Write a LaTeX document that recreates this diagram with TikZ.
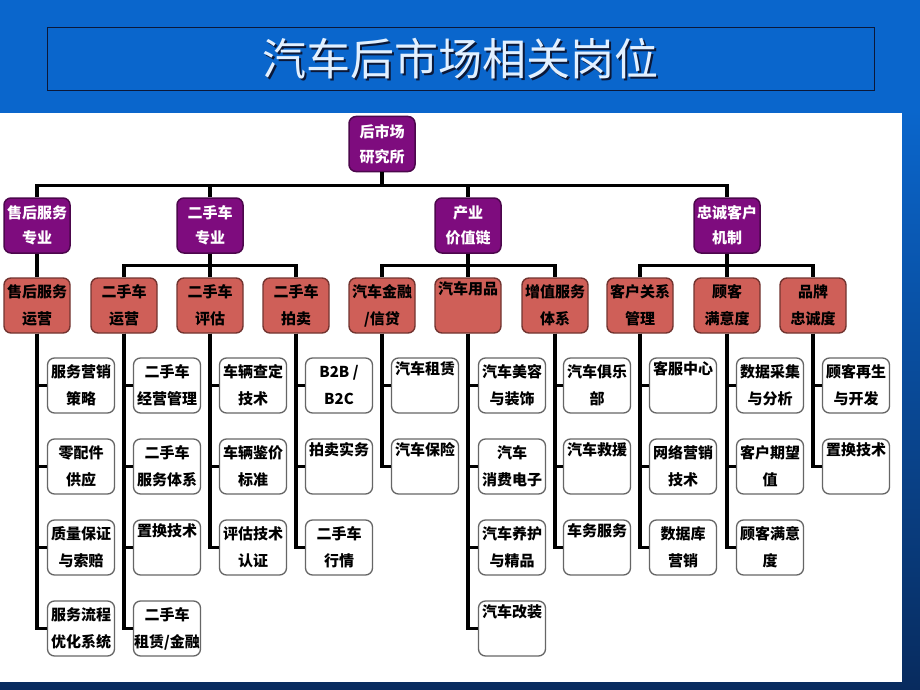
\documentclass[tikz,border=0pt]{standalone}
\usepackage{fontspec}
\setmainfont{Noto Sans CJK SC}
\newfontfamily\titlefont{Noto Sans CJK SC}

\definecolor{slideblue}{HTML}{0A66CC}
\definecolor{slidedark}{HTML}{082B5E}
\definecolor{framedark}{HTML}{0B1838}
\definecolor{boxpurple}{HTML}{7E0C7E}
\definecolor{boxred}{HTML}{CF5F58}
\definecolor{titletext}{HTML}{E2F0FF}

\newcommand\shadowtext[1]{\rlap{\kern2pt\raisebox{-2pt}{\color{framedark}#1}}#1}

\tikzset{
  purplebox/.style={draw=boxpurple!60!black, line width=1.5pt, fill=boxpurple, rounded corners=7pt,
    minimum width=66pt, minimum height=55pt, inner sep=0pt, text=white, align=center,
    font=\bfseries\fontsize{15}{25}\selectfont},
  redbox/.style={draw=boxred!55!black, line width=1.4pt, fill=boxred, rounded corners=7pt,
    minimum width=66pt, minimum height=55pt, inner sep=0pt, text=black, align=center,
    font=\bfseries\fontsize{15}{27}\selectfont},
  leafbox/.style={draw=black!60, line width=1.3pt, fill=white, rounded corners=7pt,
    minimum width=67pt, minimum height=55pt, inner sep=0pt, align=center,
    font=\bfseries\fontsize{15}{27}\selectfont},
  link/.style={line width=3.3pt, black},
}

\begin{document}
\begin{tikzpicture}[x=1pt,y=-1pt]
  \useasboundingbox (0,0) rectangle (920,690);
  \fill[slideblue] (0,0) rectangle (920,110);
  \fill[top color=slideblue, bottom color=slidedark] (0,110) rectangle (920,690);
  \fill[white] (0,113) rectangle (902,682);

  % title
  \node[draw=framedark, line width=1pt, minimum width=827pt, minimum height=63pt] (frame) at (460.5,59.5) {};
  \node[text=titletext, font=\titlefont\fontsize{44}{44}\selectfont] (title) at (460,60) {\shadowtext{汽车后市场相关岗位}};

  % top levels
  \node[purplebox] (root) at (382,144) {后市场\\研究所};

  \node[purplebox] (sh) at (37,225.5) {售后服务\\专业};
  \node[purplebox] (es) at (210,225.5) {二手车\\专业};
  \node[purplebox] (cy) at (468,225.5) {产业\\价值链};
  \node[purplebox] (zc) at (727,225.5) {忠诚客户\\机制};

  \node[redbox] (shy) at (37,305.5) {售后服务\\运营};
  \node[redbox] (esy) at (124,305.5) {二手车\\运营};
  \node[redbox] (esp) at (210,305.5) {二手车\\评估};
  \node[redbox] (esm) at (296,305.5) {二手车\\拍卖};
  \node[redbox] (jr) at (382,305.5) {汽车金融\\/信贷};
  \node[redbox] (yp) at (468,305.5) {汽车用品\\\strut};
  \node[redbox] (zz) at (555,305.5) {增值服务\\体系};
  \node[redbox] (kh) at (640,305.5) {客户关系\\管理};
  \node[redbox] (my) at (727,305.5) {顾客\\满意度};
  \node[redbox] (pp) at (813,305.5) {品牌\\忠诚度};

  % leaves
  \node[leafbox] (s1) at (81,385.5) {服务营销\\策略};
  \node[leafbox] (s2) at (81,466.5) {零配件\\供应};
  \node[leafbox] (s3) at (81,547.5) {质量保证\\与索赔};
  \node[leafbox] (s4) at (81,628.5) {服务流程\\优化系统};

  \node[leafbox] (u1) at (167,385.5) {二手车\\经营管理};
  \node[leafbox] (u2) at (167,466.5) {二手车\\服务体系};
  \node[leafbox] (u3) at (167,547.5) {置换技术\\\strut};
  \node[leafbox] (u4) at (167,628.5) {二手车\\租赁/金融};

  \node[leafbox] (g1) at (253,385.5) {车辆查定\\技术};
  \node[leafbox] (g2) at (253,466.5) {车辆鉴价\\标准};
  \node[leafbox] (g3) at (253,547.5) {评估技术\\认证};

  \node[leafbox] (p1) at (339,385.5) {B2B /\\B2C};
  \node[leafbox] (p2) at (339,466.5) {拍卖实务\\\strut};
  \node[leafbox] (p3) at (339,547.5) {二手车\\行情};

  \node[leafbox] (f1) at (425,385.5) {汽车租赁\\\strut};
  \node[leafbox] (f2) at (425,466.5) {汽车保险\\\strut};

  \node[leafbox] (y1) at (512,385.5) {汽车美容\\与装饰};
  \node[leafbox] (y2) at (512,466.5) {汽车\\消费电子};
  \node[leafbox] (y3) at (512,547.5) {汽车养护\\与精品};
  \node[leafbox] (y4) at (512,628.5) {汽车改装\\\strut};

  \node[leafbox] (z1) at (597,385.5) {汽车俱乐\\部};
  \node[leafbox] (z2) at (597,466.5) {汽车救援\\\strut};
  \node[leafbox] (z3) at (597,547.5) {车务服务\\\strut};

  \node[leafbox] (k1) at (683,385.5) {客服中心\\\strut};
  \node[leafbox] (k2) at (683,466.5) {网络营销\\技术};
  \node[leafbox] (k3) at (683,547.5) {数据库\\营销};

  \node[leafbox] (m1) at (770,385.5) {数据采集\\与分析};
  \node[leafbox] (m2) at (770,466.5) {客户期望\\值};
  \node[leafbox] (m3) at (770,547.5) {顾客满意\\度};

  \node[leafbox] (b1) at (856,385.5) {顾客再生\\与开发};
  \node[leafbox] (b2) at (856,466.5) {置换技术\\\strut};

  % connectors
  \draw[link] (root.south) -- ++(0,13) -| (sh.north);
  \draw[link] (root.south) -- ++(0,13) -| (es.north);
  \draw[link] (root.south) -- ++(0,13) -| (cy.north);
  \draw[link] (root.south) -- ++(0,13) -| (zc.north);

  \draw[link] (sh.south) -- (shy.north);
  \draw[link] (es.south) -- ++(0,12) -| (esy.north);
  \draw[link] (es.south) -- (esp.north);
  \draw[link] (es.south) -- ++(0,12) -| (esm.north);
  \draw[link] (cy.south) -- ++(0,12) -| (jr.north);
  \draw[link] (cy.south) -- (yp.north);
  \draw[link] (cy.south) -- ++(0,12) -| (zz.north);
  \draw[link] (zc.south) -- ++(0,12) -| (kh.north);
  \draw[link] (zc.south) -- (my.north);
  \draw[link] (zc.south) -- ++(0,12) -| (pp.north);

  \draw[link] (shy.south) |- (s1.west);
  \draw[link] (shy.south) |- (s2.west);
  \draw[link] (shy.south) |- (s3.west);
  \draw[link] (shy.south) |- (s4.west);
  \draw[link] (esy.south) |- (u1.west);
  \draw[link] (esy.south) |- (u2.west);
  \draw[link] (esy.south) |- (u3.west);
  \draw[link] (esy.south) |- (u4.west);
  \draw[link] (esp.south) |- (g1.west);
  \draw[link] (esp.south) |- (g2.west);
  \draw[link] (esp.south) |- (g3.west);
  \draw[link] (esm.south) |- (p1.west);
  \draw[link] (esm.south) |- (p2.west);
  \draw[link] (esm.south) |- (p3.west);
  \draw[link] (jr.south) |- (f1.west);
  \draw[link] (jr.south) |- (f2.west);
  \draw[link] (yp.south) |- (y1.west);
  \draw[link] (yp.south) |- (y2.west);
  \draw[link] (yp.south) |- (y3.west);
  \draw[link] (yp.south) |- (y4.west);
  \draw[link] (zz.south) |- (z1.west);
  \draw[link] (zz.south) |- (z2.west);
  \draw[link] (zz.south) |- (z3.west);
  \draw[link] (kh.south) |- (k1.west);
  \draw[link] (kh.south) |- (k2.west);
  \draw[link] (kh.south) |- (k3.west);
  \draw[link] (my.south) |- (m1.west);
  \draw[link] (my.south) |- (m2.west);
  \draw[link] (my.south) |- (m3.west);
  \draw[link] (pp.south) |- (b1.west);
  \draw[link] (pp.south) |- (b2.west);
\end{tikzpicture}
\end{document}
